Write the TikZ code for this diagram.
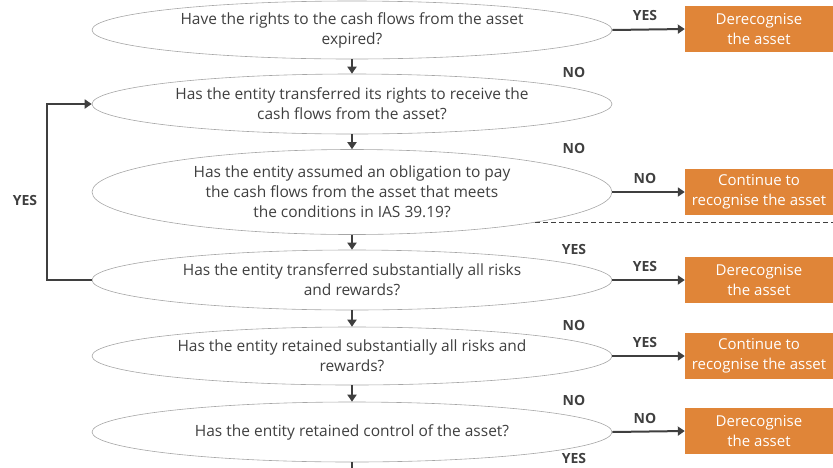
\documentclass[tikz,border=0pt]{standalone}
\usepackage{fontspec}
\setmainfont{Open Sans}
\usetikzlibrary{shapes.geometric, arrows.meta}
\definecolor{inkgray}{HTML}{3F3F3F}
\definecolor{rimgray}{HTML}{A6A6A6}
\definecolor{boxorange}{HTML}{E08538}
\begin{document}
\begin{tikzpicture}[x = 1pt, y = -1pt,
    every node/.style = {font = \fontsize{15}{19.5}\selectfont, text = inkgray, align = center},
    question/.style = {shape = ellipse, draw = rimgray, line width = 0.6pt, inner sep = 0pt,
        minimum width = 520pt, minimum height = 60pt, font = \fontsize{15.5}{20}\selectfont},
    outcome/.style = {shape = rectangle, fill = boxorange, text = white, inner sep = 0pt,
        minimum width = 148pt, minimum height = 46pt},
    answer/.style = {font = \fontsize{14}{16}\selectfont\bfseries},
    flow/.style = {draw = inkgray, line width = 2pt, -{Triangle[length = 7pt, width = 9pt]}}]
        \useasboundingbox (0,0) rectangle (833,467);
        % questions
        \node[question, minimum height = 58pt] (q1) at (352,30) {Have the rights to the cash flows from the asset\\expired?};
        \node[question] (q2) at (352,104) {Has the entity transferred its rights to receive the\\cash flows from the asset?};
        \node[question, minimum height = 85pt] (q3) at (352,192) {Has the entity assumed an obligation to pay\\the cash flows from the asset that meets\\the conditions in IAS 39.19?};
        \node[question] (q4) at (352,280) {Has the entity transferred substantially all risks\\and rewards?};
        \node[question, minimum height = 58pt] (q5) at (352,356) {Has the entity retained substantially all risks and\\rewards?};
        \node[question] (q6) at (352,432) {Has the entity retained control of the asset?};
        % outcomes
        \node[outcome] (o1) at (759,29) {Derecognise\\the asset};
        \node[outcome] (o2) at (759,192) {Continue to\\recognise the asset};
        \node[outcome] (o3) at (759,280) {Derecognise\\the asset};
        \node[outcome] (o4) at (759,356) {Continue to\\recognise the asset};
        \node[outcome] (o5) at (759,431) {Derecognise\\the asset};
        % down the chain
        \draw[flow] (q1) -- (q2);
        \draw[flow] (q2) -- (q3);
        \draw[flow] (q3) -- (q4);
        \draw[flow] (q4) -- (q5);
        \draw[flow] (q5) -- (q6);
        \coordinate (tail) at (352,475);
        \draw[flow, -] (q6) -- (tail);
        \node[answer] (d1) at (574,72) {NO};
        \node[answer] (d2) at (574,148) {NO};
        \node[answer] (d3) at (574,249) {YES};
        \node[answer] (d4) at (574,325) {NO};
        \node[answer] (d5) at (574,400) {NO};
        \node[answer] (d6) at (574,458) {YES};
        % across to the outcomes
        \draw[flow] (q1.east) -- (o1.west);
        \draw[flow] (q3.east) -- (o2.west);
        \draw[flow] (q4.east) -- (o3.west);
        \draw[flow] (q5.east) -- (o4.west);
        \draw[flow] (q6.east) -- (o5.west);
        \node[answer] (r1) at (645,15) {YES};
        \node[answer] (r2) at (645,178) {NO};
        \node[answer] (r3) at (645,266) {YES};
        \node[answer] (r4) at (645,342) {YES};
        \node[answer] (r5) at (645,418) {NO};
        % loop back
        \draw[flow] (q4.west) -- ++(-45,0) |- (q2.west);
        \node[answer] (loop) at (25,200) {YES};
        % divider
        \coordinate (cutl) at (535,222);
        \coordinate (cutr) at (833,222);
        \draw[inkgray, dash pattern = on 5pt off 3pt, line width = 0.9pt] (cutl) -- (cutr);
\end{tikzpicture}
\end{document}
